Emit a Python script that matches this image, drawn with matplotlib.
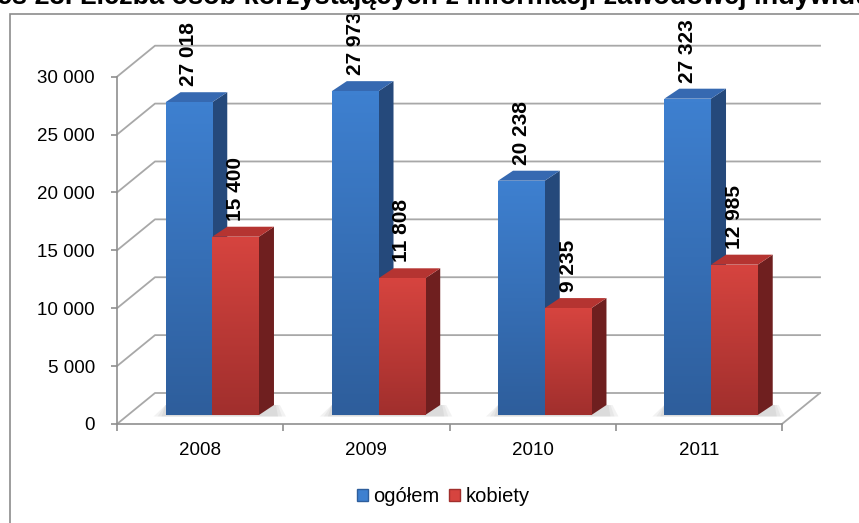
import numpy as np
import matplotlib.pyplot as plt
from matplotlib.patches import Polygon, Rectangle, Patch
from matplotlib.colors import LinearSegmentedColormap

plt.rcParams['font.family'] = ['Liberation Sans', 'DejaVu Sans']

# data
years = ['2008', '2009', '2010', '2011']
ogolem = [27018, 27973, 20238, 27323]
kobiety = [15400, 11808, 9235, 12985]
series_names = ['ogółem', 'kobiety']
yticks = [0, 5000, 10000, 15000, 20000, 25000, 30000]
title = 'Wykres 23. Liczba osób korzystających z informacji zawodowej indywidualnej'


def fmt(v):
    return f'{v:,}'.replace(',', ' ')


W, H = 859, 523
fig = plt.figure(figsize=(W / 100, H / 100), dpi=100)

# axes placed where the front floor edge and value axis sit
x_left, x_right = 117, 782
y_zero, y_top = 424, 76.7
ax = fig.add_axes([x_left / W, 1 - y_zero / H, (x_right - x_left) / W, (y_zero - y_top) / H])
n = len(years)
ymax = yticks[-1]

upx = ymax / (y_zero - y_top)      # value units per pixel
cpx = n / (x_right - x_left)       # category units per pixel

wall_dx, wall_dy = 38 * cpx, 31 * upx
bar_dx, bar_dy = 15 * cpx, 10 * upx
base = 9 * upx
grid_c = '#a8a8a8'
axis_c = '#8f8f8f'

# back wall gridlines + side wall diagonals
for v in yticks:
    ax.plot([0, wall_dx, n + wall_dx], [v, v + wall_dy, v + wall_dy],
            color=grid_c, lw=1.3, clip_on=False, zorder=1)
# right edge of the floor
ax.plot([n, n + wall_dx], [0, wall_dy], color=grid_c, lw=1.3, clip_on=False, zorder=1)

# bars
styles = [
    dict(bot='#2e5e9c', top_='#3e80d0', side='#25497b', top='#3669b1'),
    dict(bot='#a12f2d', top_='#d6443f', side='#6f1f1f', top='#b53431'),
]
offsets = [0.292, 0.573]
width = 0.281
grad = np.linspace(0, 1, 64).reshape(-1, 1)

z = 5
for i in range(n):
    # soft floor shadow under the pair of bars
    sx0 = i + offsets[0]
    sx1 = i + offsets[1] + width + bar_dx
    for k, a in enumerate([0.12, 0.12, 0.15]):
        grow = (3 - k) * 4 * cpx
        shadow = Polygon([(sx0 - grow, base - 1.5 * upx), (sx1 + grow, base - 1.5 * upx),
                          (sx1 + grow * 0.5, base + bar_dy), (sx0, base + bar_dy)],
                         closed=True, facecolor='#9a9a9a', edgecolor='none', alpha=a,
                         zorder=2, clip_on=False)
        ax.add_patch(shadow)
    for s, vals in enumerate([ogolem, kobiety]):
        st = styles[s]
        v = vals[i]
        x0 = i + offsets[s]
        x1 = x0 + width
        y0 = base
        y1 = base + v
        side = Polygon([(x1, y0), (x1 + bar_dx, y0 + bar_dy), (x1 + bar_dx, y1 + bar_dy), (x1, y1)],
                       closed=True, facecolor=st['side'], edgecolor='none', zorder=z, clip_on=False)
        ax.add_patch(side)
        top = Polygon([(x0, y1), (x0 + bar_dx, y1 + bar_dy), (x1 + bar_dx, y1 + bar_dy), (x1, y1)],
                      closed=True, facecolor=st['top'], edgecolor='none', zorder=z + 1, clip_on=False)
        ax.add_patch(top)
        front = Rectangle((x0, y0), width, v, facecolor='none', edgecolor='none', zorder=z + 2)
        ax.add_patch(front)
        cmap = LinearSegmentedColormap.from_list('g', [st['bot'], st['top_']])
        im = ax.imshow(grad, extent=(x0, x1, y0, y1), origin='lower', aspect='auto',
                       cmap=cmap, zorder=z + 2, interpolation='bilinear')
        im.set_clip_path(front)
        ax.text((x0 + x1) / 2, y1 + bar_dy + 6 * upx, fmt(v), rotation=90,
                ha='center', va='bottom', fontsize=15, fontweight='bold', zorder=60)
        z += 3

ax.set_xlim(0, n)
ax.set_ylim(0, ymax)
ax.patch.set_visible(False)

for sp in ['top', 'right']:
    ax.spines[sp].set_visible(False)
for sp in ['left', 'bottom']:
    ax.spines[sp].set_color(axis_c)
    ax.spines[sp].set_linewidth(1.2)

ax.set_yticks(yticks)
ax.set_yticklabels([fmt(v) for v in yticks], fontsize=13.5)
ax.tick_params(axis='y', length=4, width=1.2, color=axis_c, pad=12)
ax.set_xticks(range(n + 1))
ax.set_xticklabels([''] * (n + 1))
ax.tick_params(axis='x', which='major', length=5, width=1.2, color=axis_c)
ax.set_xticks([i + 0.5 for i in range(n)], minor=True)
ax.set_xticklabels(years, minor=True, fontsize=13.5)
ax.tick_params(axis='x', which='minor', length=0, pad=13)

# legend
handles = [Patch(facecolor=styles[0]['top_'], edgecolor=styles[0]['bot']),
           Patch(facecolor=styles[1]['top_'], edgecolor=styles[1]['bot'])]
fig.legend(handles, series_names, loc='center', bbox_to_anchor=(443 / W, 1 - 497 / H),
           ncol=2, frameon=False, fontsize=14.5, handlelength=0.55, handleheight=0.55,
           handletextpad=0.25, columnspacing=0.5)

# chart frame (runs past the right and bottom edges of the image)
fig.patches.append(Rectangle((10 / W, -0.1), 1.2, 1.1 - 14 / H, transform=fig.transFigure,
                             fill=False, edgecolor='#8c8c8c', lw=1.2))

# title, clipped by the top edge as in the original
renderer = fig.canvas.get_renderer()
probe = fig.text(0, 0, 'Wykr', fontsize=19.5, fontweight='bold')
shift = probe.get_window_extent(renderer).width
probe.remove()
fig.text((-3 - shift) / W, 1 - 4 / H, title, fontsize=19.5, fontweight='bold',
         ha='left', va='baseline')

fig.savefig('out.png', dpi=100)
